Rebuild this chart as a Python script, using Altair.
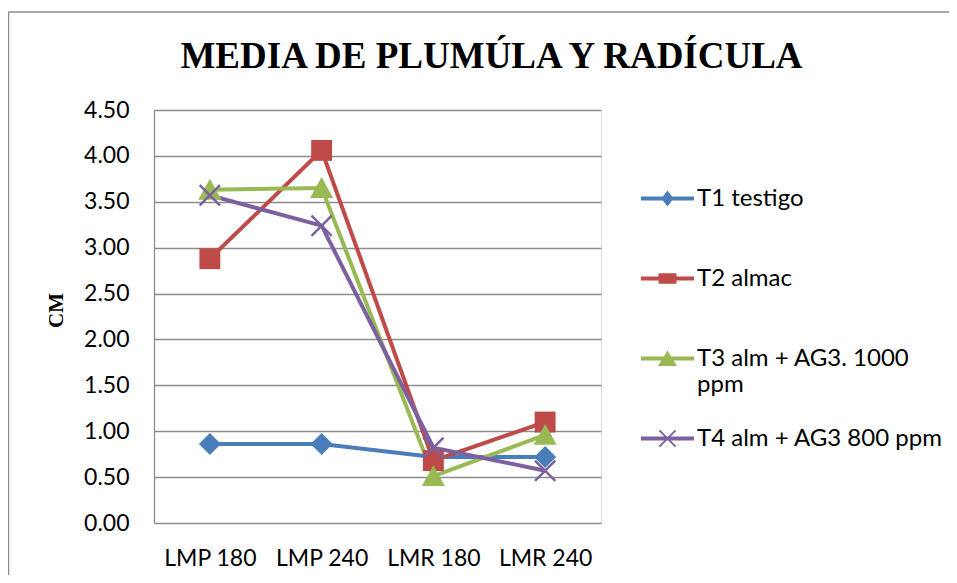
import altair as alt
import pandas as pd

categories = ["LMP 180", "LMP 240", "LMR 180", "LMR 240"]
series_names = ["T1 testigo", "T2 almac", "T3 alm + AG3. 1000 ppm", "T4 alm + AG3 800 ppm"]
t1_values = [0.86, 0.86, 0.72, 0.72]
t2_values = [2.88, 4.06, 0.68, 1.10]
t3_values = [3.63, 3.65, 0.51, 0.96]
t4_values = [3.57, 3.24, 0.82, 0.57]
y_ticks = [0, 0.5, 1.0, 1.5, 2.0, 2.5, 3.0, 3.5, 4.0, 4.5]
colors = ["#4A7EBB", "#BE4B48", "#98B954", "#7D60A0"]

rows = []
for name, vals in zip(series_names, [t1_values, t2_values, t3_values, t4_values]):
    for c, v in zip(categories, vals):
        rows.append({"cat": c, "value": v, "series": name})
df = pd.DataFrame(rows)

# marker shapes for the plot (custom SVG paths, unit box [-1,1])
plot_shapes = [
    "M0,-1L1,0L0,1L-1,0Z",
    "M-0.95,-0.95H0.95V0.95H-0.95Z",
    "M0,-1L1.05,0.9H-1.05Z",
    "M-0.84,-1L1,0.84L0.84,1L-1,-0.84Z M0.84,-1L1,-0.84L-0.84,1L-1,0.84Z",
]
# legend glyphs: line segment plus marker
seg = "M-1,-0.075H1V0.075H-1Z "
legend_shapes = [
    seg + "M0,-0.3L0.23,0L0,0.3L-0.23,0Z",
    seg + "M-0.34,-0.2H0.34V0.2H-0.34Z",
    seg + "M0,-0.3L0.36,0.28H-0.36Z",
    seg + "M-0.28,-0.33L0.33,0.28L0.28,0.33L-0.33,-0.28Z M0.28,-0.33L0.33,-0.28L-0.28,0.33L-0.33,0.28Z",
]

grid_gray = "#8C8C8C"

x_enc = alt.X(
    "cat:N",
    sort=categories,
    scale=alt.Scale(type="point", padding=0.5),
    axis=alt.Axis(
        title=None, labelAngle=0, labelFont="Lato", labelFontSize=23,
        labelColor="#000000", labelPadding=24, ticks=False, domain=False, grid=False,
    ),
)
y_enc = alt.Y(
    "value:Q",
    scale=alt.Scale(domain=[0, 4.5], nice=False, zero=True),
    axis=alt.Axis(
        values=y_ticks, format=".2f", title="CM",
        titleFont="Liberation Serif", titleFontSize=21, titleFontWeight="bold",
        titleColor="#000000", titleX=-98, titleY=200, titleAlign="center",
        titleBaseline="middle", titleAngle=-90,
        labelFont="Lato", labelFontSize=23, labelColor="#000000", labelPadding=25,
        ticks=False, domainColor=grid_gray, domainWidth=1.3,
        gridColor=grid_gray, gridWidth=1.3,
    ),
)

color_scale = alt.Scale(domain=series_names, range=colors)

lines = alt.Chart(df).mark_line(strokeWidth=4).encode(
    x=x_enc, y=y_enc,
    color=alt.Color("series:N", scale=color_scale, legend=None),
)

points = alt.Chart(df).mark_point(filled=True, opacity=1, size=484, strokeWidth=0).encode(
    x=x_enc, y=y_enc,
    color=alt.Color("series:N", scale=color_scale, legend=None),
    shape=alt.Shape("series:N", scale=alt.Scale(domain=series_names, range=plot_shapes), legend=None),
)

legend_props = dict(
    title=None, orient="none", legendX=487, legendY=62,
    symbolSize=2809, labelFont="Lato", labelFontSize=24, labelColor="#000000",
    labelLimit=400, rowPadding=15, labelOffset=3, symbolStrokeWidth=0,
    gridAlign="all",
    labelExpr="datum.label == 'T3 alm + AG3. 1000 ppm' ? ['T3 alm + AG3. 1000', 'ppm'] : datum.label",
)

legend_layer = alt.Chart(df).transform_filter("datum.value < -100").mark_point(
    filled=True, opacity=1, strokeWidth=0
).encode(
    x=x_enc, y=y_enc,
    color=alt.Color("series:N", scale=color_scale, legend=alt.Legend(**legend_props)),
    shape=alt.Shape(
        "series:N", scale=alt.Scale(domain=series_names, range=legend_shapes),
        legend=alt.Legend(**legend_props),
    ),
)

frame = alt.Chart(alt.Data(values=[{}])).mark_rule(color="#8C8C8C", strokeWidth=1.5).encode(
    x=alt.value(-145.5), x2=alt.value(800), y=alt.value(-98)
)
frame_left = alt.Chart(alt.Data(values=[{}])).mark_rule(color="#8C8C8C", strokeWidth=1.5).encode(
    x=alt.value(-145.5), y=alt.value(-98), y2=alt.value(470)
)

chart = alt.layer(frame, frame_left, lines, points, legend_layer).resolve_scale(
    shape="independent", color="independent"
).properties(
    width=447,
    height=413,
    autosize=alt.AutoSizeParams(type="none"),
    padding={"left": 146, "top": 102, "right": 348, "bottom": 52},
    title=alt.TitleParams(
        text="MEDIA DE PLUMÚLA Y RADÍCULA", font="Liberation Serif", fontSize=37,
        fontWeight="bold", color="#000000", anchor="middle", frame="group",
        dx=114, offset=0, dy=94, baseline="alphabetic",
    ),
).configure_view(stroke=None).configure(background="white")

chart.save("out.html", embed_options={"renderer": "svg", "actions": False})
